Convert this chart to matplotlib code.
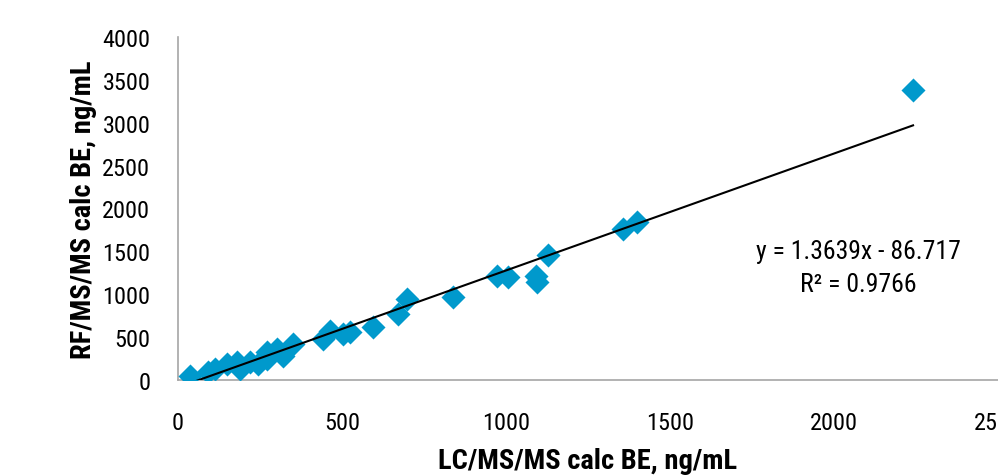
import numpy as np
import matplotlib.pyplot as plt

plt.rcParams['font.family'] = ['Roboto Condensed', 'DejaVu Sans']

# LC/MS/MS vs RF/MS/MS calculated BE (ng/mL)
lcms = [37, 91, 113, 149, 180, 189, 220, 244, 271, 271, 302, 320, 351,
        442, 463, 503, 524, 595, 671, 698, 838, 973, 1006, 1091, 1095,
        1128, 1357, 1399, 2241]
rfms = [47, 93, 128, 187, 210, 128, 210, 187, 327, 245, 362, 280, 420,
        478, 571, 536, 560, 618, 770, 945, 968, 1213, 1201, 1213, 1143,
        1458, 1761, 1843, 3382]

slope = 1.3639
intercept = -86.717
r2 = 0.9766

fig = plt.figure(figsize=(9.98, 4.77), dpi=100)
ax = fig.add_axes([0.1784, 0.2013, 0.8216, 0.719])

ax.scatter(lcms, rfms, marker='D', s=150, color='#0099CC', zorder=3,
           linewidths=0)

xfit = np.array([min(lcms), max(lcms)])
ax.plot(xfit, slope * xfit + intercept, color='black', lw=1.5, zorder=4)

ax.text(2075, 1310, f"y = {slope}x - {abs(intercept)}\nR² = {r2}",
        ha='center', va='center', fontsize=18.5, linespacing=1.45)

ax.set_xlim(0, 2500)
ax.set_ylim(0, 4000)
ax.set_xticks(np.arange(0, 2501, 500))
ax.set_yticks(np.arange(0, 4001, 500))
ax.tick_params(length=0, labelsize=17.5)
ax.tick_params(axis='x', pad=22)
ax.tick_params(axis='y', pad=20)

for s in ['top', 'right']:
    ax.spines[s].set_visible(False)
for s in ['left', 'bottom']:
    ax.spines[s].set_color('#A6A6A6')
    ax.spines[s].set_linewidth(1.2)

ax.set_xlabel('LC/MS/MS calc BE, ng/mL', fontsize=20.5, fontweight='bold',
              labelpad=10)
ax.set_ylabel('RF/MS/MS calc BE, ng/mL', fontsize=20.5, fontweight='bold',
              labelpad=4)

fig.savefig('out.png', dpi=100)
